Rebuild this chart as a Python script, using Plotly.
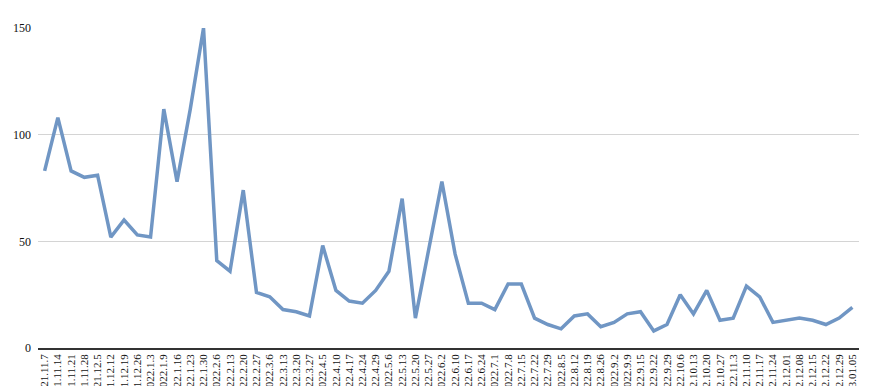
import plotly.graph_objects as go

dates = ["2021.11.7", "2021.11.14", "2021.11.21", "2021.11.28", "2021.12.5", "2021.12.12",
         "2021.12.19", "2021.12.26", "2022.1.3", "2022.1.9", "2022.1.16", "2022.1.23",
         "2022.1.30", "2022.2.6", "2022.2.13", "2022.2.20", "2022.2.27", "2022.3.6",
         "2022.3.13", "2022.3.20", "2022.3.27", "2022.4.5", "2022.4.10", "2022.4.17",
         "2022.4.24", "2022.4.29", "2022.5.6", "2022.5.13", "2022.5.20", "2022.5.27",
         "2022.6.2", "2022.6.10", "2022.6.17", "2022.6.24", "2022.7.1", "2022.7.8",
         "2022.7.15", "2022.7.22", "2022.7.29", "2022.8.5", "2022.8.12", "2022.8.19",
         "2022.8.26", "2022.9.2", "2022.9.9", "2022.9.15", "2022.9.22", "2022.9.29",
         "2022.10.6", "2022.10.13", "2022.10.20", "2022.10.27", "2022.11.3", "2022.11.10",
         "2022.11.17", "2022.11.24", "2022.12.01", "2022.12.08", "2022.12.15", "2022.12.22",
         "2022.12.29", "2023.01.05"]

values = [83, 108, 83, 80, 81, 52, 60, 53, 52, 112, 78, 112,
          150, 41, 36, 74, 26, 24, 18, 17, 15, 48, 27, 22,
          21, 27, 36, 70, 14, 45, 78, 44, 21, 21, 18, 30,
          30, 14, 11, 9, 15, 16, 10, 12, 16, 17, 8, 11,
          25, 16, 27, 13, 14, 29, 24, 12, 13, 14, 13, 11,
          14, 19]

y_ticks = [0, 50, 100, 150]

fig = go.Figure()
fig.add_trace(go.Scatter(
    x=dates, y=values, mode="lines",
    line=dict(color="#7096c4", width=3.5),
    hoverinfo="x+y",
))

font_family = "Liberation Serif, Times New Roman, serif"

fig.update_layout(
    width=872, height=386,
    margin=dict(l=38, r=13, t=28, b=38),
    paper_bgcolor="white", plot_bgcolor="white",
    showlegend=False,
    font=dict(family=font_family, size=11, color="#111111"),
    xaxis=dict(
        type="category",
        tickangle=-90,
        showgrid=False,
        showline=True, linecolor="#333333", linewidth=1.5,
        ticks="", automargin=False,
        tickfont=dict(family=font_family, size=11, color="#111111"),
        range=[-0.5, len(dates) - 0.5],
    ),
    yaxis=dict(
        range=[0, 150],
        tickvals=y_ticks,
        showgrid=True, gridcolor="#d4d4d4", gridwidth=1,
        zeroline=False, showline=False,
        ticks="", automargin=False,
        ticklabelstandoff=6,
        tickfont=dict(family=font_family, size=12, color="#111111"),
    ),
)

fig.write_html(
    "out.html",
    config={"displayModeBar": False},
    post_script="document.body.style.margin='0';document.body.style.overflow='hidden';",
)
